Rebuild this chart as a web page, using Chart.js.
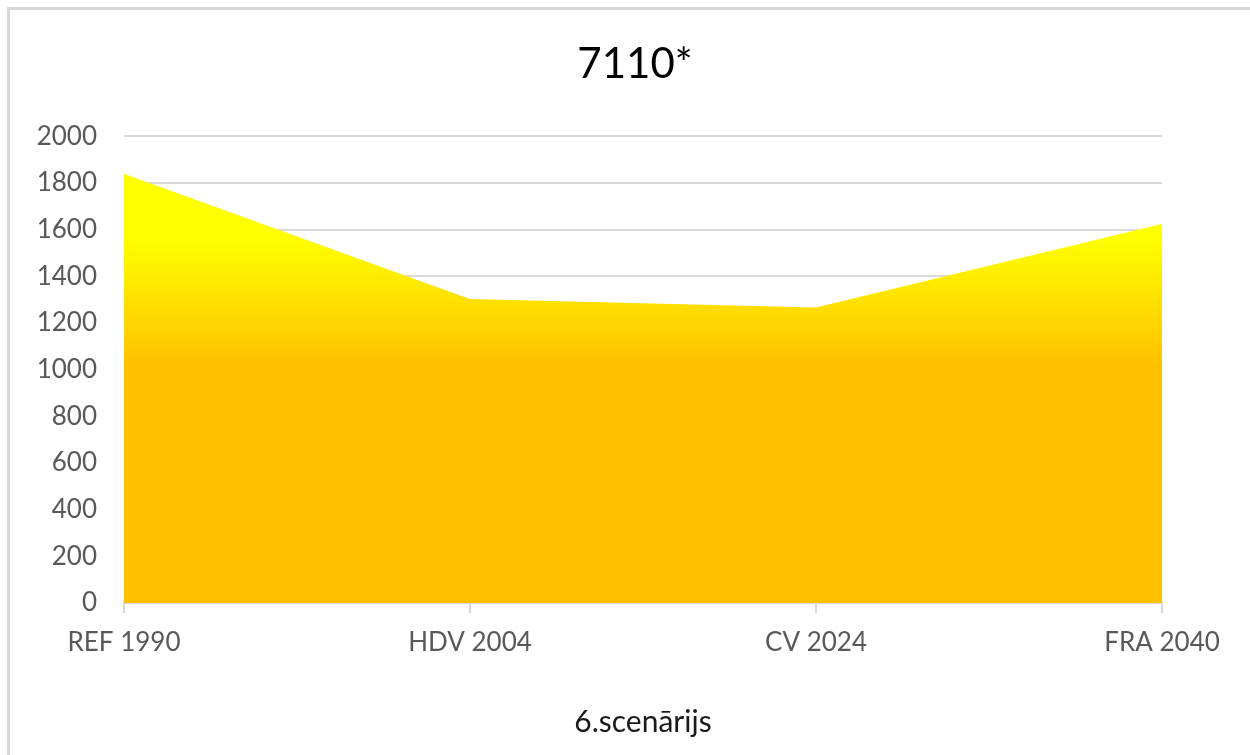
<!DOCTYPE html>
<html>
<head>
<meta charset="utf-8">
<script src="https://cdn.jsdelivr.net/npm/chart.js@4/dist/chart.umd.min.js"></script>
<style>
  html, body { margin: 0; padding: 0; background: #fff; overflow: hidden; }
  #frame { position: absolute; left: 7px; top: 7px; width: 1260px; height: 760px;
           border-left: 3px solid #d9d9d9; border-top: 3px solid #d9d9d9; }
  #wrap { position: absolute; left: 0; top: 0; width: 1250px; height: 755px; }
</style>
</head>
<body>
<div id="frame"></div>
<div id="wrap"><canvas id="chart" width="1250" height="755"></canvas></div>
<script>
// data
const labels = ["REF 1990", "HDV 2004", "CV 2024", "FRA 2040"];
const values = [1840, 1303, 1267, 1624];
const yTicks = [0, 200, 400, 600, 800, 1000, 1200, 1400, 1600, 1800, 2000];

const FONT = "Lato, 'Open Sans', sans-serif";

// yellow at the top of the area, fading into orange lower down
function areaFill(context) {
  const chart = context.chart;
  const y = chart.scales.y;
  if (!chart.chartArea || !y) return "#FFC000";
  const top = y.getPixelForValue(Math.max(...values));
  const bottom = y.getPixelForValue(0);
  const g = chart.ctx.createLinearGradient(0, top, 0, bottom);
  g.addColorStop(0, "#FFFF00");
  g.addColorStop(0.15, "#FFFF00");
  g.addColorStop(0.45, "#FFC000");
  g.addColorStop(1, "#FFC000");
  return g;
}

new Chart(document.getElementById("chart"), {
  type: "line",
  data: {
    labels: labels,
    datasets: [
      {
        label: "7110*",
        data: values,
        fill: "origin",
        backgroundColor: areaFill,
        borderWidth: 0,
        pointRadius: 0,
        tension: 0,
      },
    ],
  },
  options: {
    responsive: false,
    animation: false,
    layout: { padding: { left: 20, right: 0, top: 10, bottom: 0 } },
    plugins: {
      legend: { display: false },
      tooltip: { enabled: false },
      title: {
        display: true,
        text: "7110*",
        color: "#000",
        font: { family: FONT, size: 42, weight: "normal" },
        padding: { top: 29, bottom: 47 },
      },
    },
    scales: {
      x: {
        offset: false,
        grid: { drawOnChartArea: false, tickLength: 10, color: "#d9d9d9", lineWidth: 2, offset: false },
        border: { color: "#d9d9d9", width: 2 },
        ticks: { color: "#595959", font: { family: FONT, size: 26 }, padding: 14, maxRotation: 0 },
        title: {
          display: true,
          text: "6.scenārijs",
          color: "#1a1a1a",
          font: { family: FONT, size: 30 },
          padding: { top: 0, bottom: 15 },
        },
        afterFit: (s) => { s.height = 152; },
      },
      y: {
        min: 0,
        max: 2000,
        afterBuildTicks: (s) => { s.ticks = yTicks.map((v) => ({ value: v })); },
        grid: { color: "#d9d9d9", lineWidth: 2, drawTicks: false },
        border: { display: false },
        ticks: { color: "#595959", font: { family: FONT, size: 26 }, padding: 27, callback: (v) => String(v) },
        afterFit: (s) => { s.width = 104; },
      },
      // empty space on the right so the title stays centred on the page
      yRight: {
        position: "right",
        display: true,
        grid: { display: false },
        border: { display: false },
        ticks: { display: false },
        afterFit: (s) => { s.width = 88; },
      },
    },
  },
});
</script>
</body>
</html>
